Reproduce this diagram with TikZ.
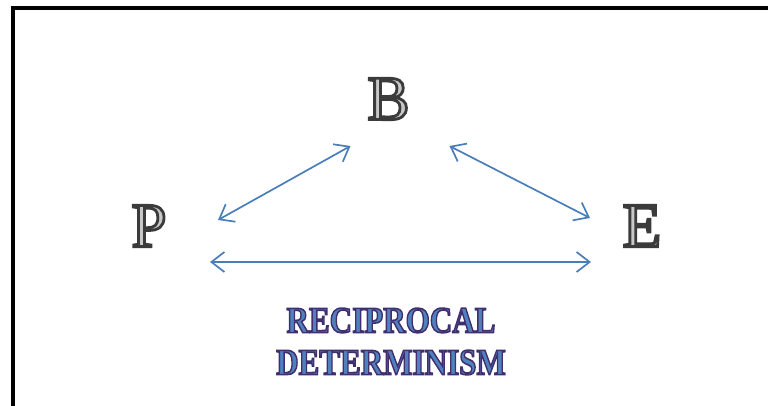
\documentclass[tikz,border=0pt]{standalone}
\usepackage{fontspec}
\setmainfont{Liberation Serif}
\usetikzlibrary{arrows.meta,calc}
\definecolor{rim}{HTML}{3A3A3A}
\definecolor{core}{HTML}{C8C8C8}
\definecolor{titlerim}{HTML}{3F2F6E}
\definecolor{titlefill}{HTML}{4F81BD}
\definecolor{link}{HTML}{4A7EBB}
% outlined text: fill in the current colour, stroke of width #1 in rgb #2
\newcommand\rimmed[3]{\special{pdf:literal direct 2 Tr #1 w #2 RG}#3\special{pdf:literal direct 0 Tr}}

\begin{document}
\begin{tikzpicture}[x=1pt,y=-1pt,
  letter/.style={inner sep=0pt,text=core,font=\fontsize{63}{63}\selectfont},
  caption/.style={inner sep=0pt,align=center,xscale=0.84,transform shape,text=titlefill,font=\bfseries\fontsize{37}{42}\selectfont},
  biarrow/.style={link,line width=1.7pt,{Straight Barb[length=13pt,width=20pt]}-{Straight Barb[length=13pt,width=20pt]}}]
  \useasboundingbox (0,0) rectangle (768,406);
  \clip (0,0) rectangle (768,406);
  % frame
  \draw[line width=4pt] (12.5,420) -- (12.5,8.5) -- (780,8.5);
  % letters
  \node[letter] (B) at (388.5,99) {\rimmed{2.8}{0.23 0.23 0.23}{B}};
  \node[letter] (P) at (149,226) {\rimmed{2.8}{0.23 0.23 0.23}{P}};
  \node[letter] (E) at (642,226) {\rimmed{2.8}{0.23 0.23 0.23}{E}};
  % connectors
  \draw[biarrow] ($(P)+(69,-6)$) -- ($(B)+(-38,47)$);
  \draw[biarrow] ($(B)+(61,47)$) -- ($(E)+(-52,-8)$);
  \draw[biarrow] ($(P)+(61,36)$) -- ($(E)+(-51,36)$);
  % caption
  \node[caption] (title) at (391,341.5) {\rimmed{1.6}{0.25 0.18 0.43}{RECIPROCAL}\\\rimmed{1.6}{0.25 0.18 0.43}{DETERMINISM}};
\end{tikzpicture}
\end{document}
